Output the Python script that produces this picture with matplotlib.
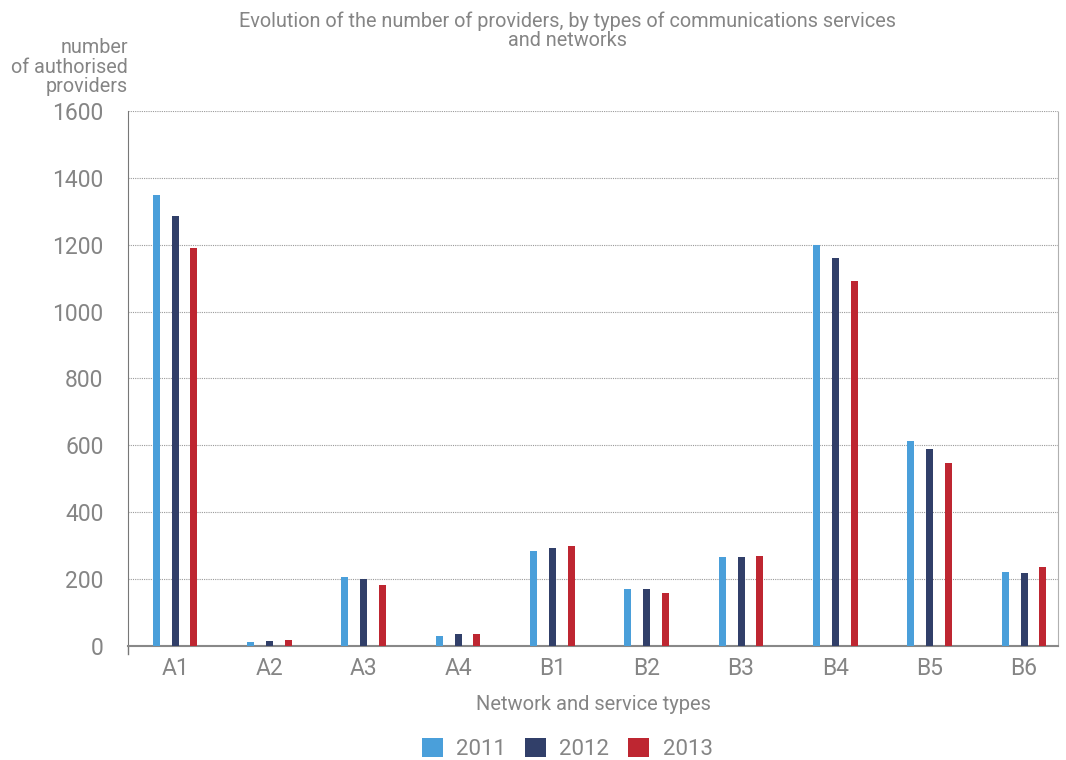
import numpy as np
import matplotlib
matplotlib.use("Agg")
import matplotlib.pyplot as plt

categories = ["A1", "A2", "A3", "A4", "B1", "B2", "B3", "B4", "B5", "B6"]
years = ["2011", "2012", "2013"]
v2011 = [1350, 12, 206, 31, 284, 170, 266, 1200, 612, 222]
v2012 = [1285, 16, 201, 35, 293, 170, 266, 1160, 588, 219]
v2013 = [1190, 18, 183, 35, 299, 158, 269, 1092, 548, 237]
colors = ["#4A9FDA", "#313F69", "#BE2631"]

plt.rcParams['font.family'] = ['Roboto', 'DejaVu Sans']
grey = "#858585"

fig = plt.figure(figsize=(10.66, 7.6), dpi=100)
ax = fig.add_axes([0.12, 0.15, 0.8725, 0.704])

x = np.arange(len(categories))
w = 0.075
off = 0.2
for i, (vals, c, yr) in enumerate(zip([v2011, v2012, v2013], colors, years)):
    ax.bar(x + (i - 1) * off, vals, width=w, color=c, label=yr, zorder=3)

ax.set_xlim(-0.5, 9.36)
ax.set_ylim(0, 1600)
ax.set_yticks(range(0, 1601, 200))
ax.set_xticks(x)
ax.set_xticklabels(categories)
ax.tick_params(axis='both', colors=grey, labelsize=16.5, length=0)
ax.tick_params(axis='y', pad=17.5)
ax.tick_params(axis='x', pad=8)
ax.grid(axis='y', linestyle=(0, (1, 1)), color="#9a9a9a", linewidth=0.8, zorder=0)

ax.spines["top"].set_visible(False)
ax.spines["right"].set_linestyle((0, (1, 1)))
ax.spines["right"].set_color("#b0b0b0")
ax.spines["left"].set_color("#777777")
ax.spines["bottom"].set_color("#888888")
ax.spines["bottom"].set_linewidth(1.5)
ax.plot([-0.5, -0.5], [0, -25], color="#777777", lw=1, clip_on=False)

ax.set_xlabel("Network and service types", color=grey, fontsize=14.5, labelpad=10.5)

fig.text(0.532, 0.985, "Evolution of the number of providers, by types of communications services\nand networks",
         ha="center", va="top", color=grey, fontsize=14.3, linespacing=1.0)
fig.text(0.12, 0.95, "number\nof authorised\nproviders", ha="right", va="top",
         color=grey, fontsize=14.2, linespacing=1.05)

fig.legend(loc="lower center", bbox_to_anchor=(0.532, -0.026), ncol=3, frameon=False,
           fontsize=16, labelcolor=grey, handlelength=0.95, handleheight=0.95,
           columnspacing=0.85, handletextpad=0.6)

fig.savefig("out.png", dpi=100)
